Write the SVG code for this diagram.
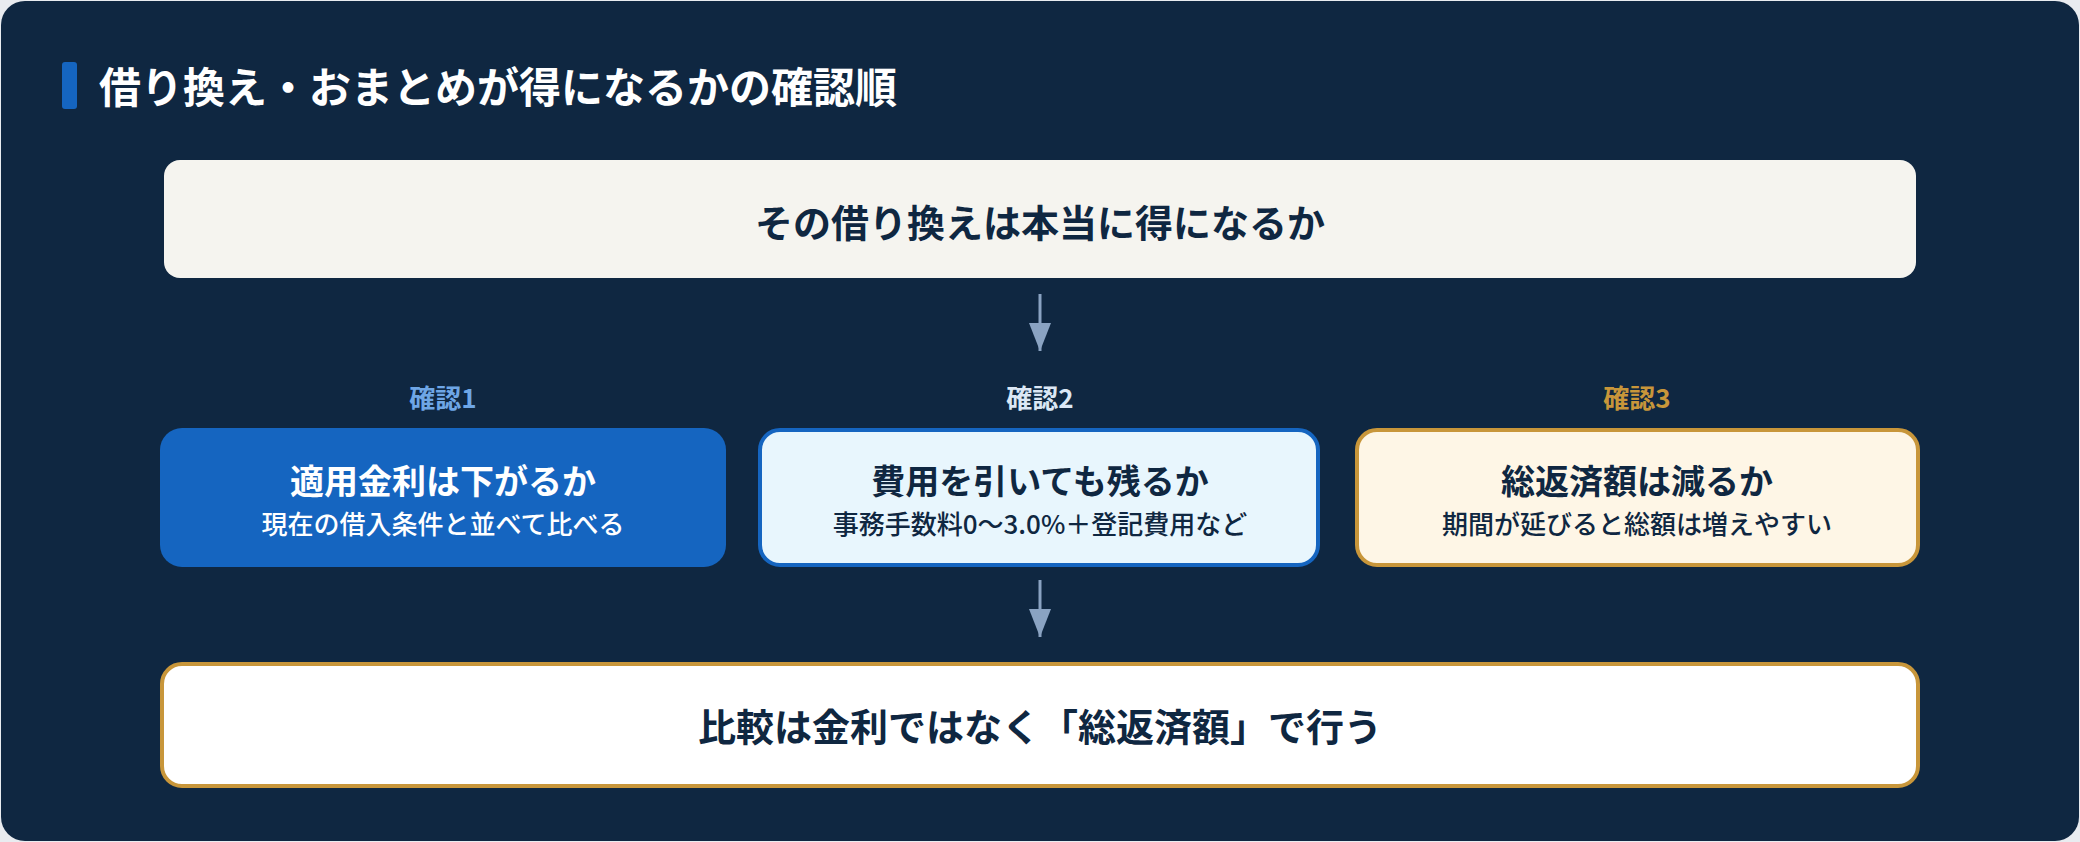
<svg xmlns="http://www.w3.org/2000/svg" width="2080" height="842" viewBox="0 0 2080 842">
  <defs>
    <marker id="arrow" viewBox="0 0 28 22" refX="28" refY="11" markerWidth="28" markerHeight="22" markerUnits="userSpaceOnUse" orient="auto">
      <path d="M0,0 L28,11 L0,22 Z" fill="#8aa3c2"/>
    </marker>
  </defs>
  <style>
    text { font-family: "Noto Sans CJK JP", "Noto Sans", sans-serif; text-anchor: middle; }
    .heading { font-size: 42px; font-weight: 700; fill: #ffffff; text-anchor: start; }
    .big { font-size: 38px; font-weight: 700; fill: #0f2741; }
    .ttl { font-size: 34px; font-weight: 700; }
    .sub { font-size: 26px; font-weight: 500; }
    .lbl { font-size: 26px; font-weight: 700; }
    .conn { stroke: #8aa3c2; stroke-width: 3; fill: none; }
  </style>
  <rect x="0" y="0" width="2080" height="842" fill="#e9ecf0"/>
  <rect x="1" y="1" width="2078" height="840" rx="24" fill="#0f2741"/>

  <g id="title">
    <rect x="62" y="62" width="15" height="47" rx="3" fill="#1565c0"/>
    <text class="heading" x="99" y="103">借り換え・おまとめが得になるかの確認順</text>
  </g>

  <g id="start">
    <rect x="164" y="160" width="1752" height="118" rx="16" fill="#f5f4ef"/>
    <text class="big" x="1040" y="237">その借り換えは本当に得になるか</text>
  </g>

  <g id="check1">
    <text class="lbl" x="443" y="408" fill="#6ea6e6">確認1</text>
    <rect x="160" y="428" width="566" height="139" rx="22" fill="#1565c0"/>
    <text class="ttl" x="443" y="494" fill="#ffffff">適用金利は下がるか</text>
    <text class="sub" x="443" y="534" fill="#ffffff">現在の借入条件と並べて比べる</text>
  </g>

  <g id="check2">
    <text class="lbl" x="1040" y="408" fill="#dbe7f5">確認2</text>
    <rect x="760" y="430" width="558" height="135" rx="20" fill="#e8f6fd" stroke="#1565c0" stroke-width="4"/>
    <text class="ttl" x="1040" y="494" fill="#0f2741">費用を引いても残るか</text>
    <text class="sub" x="1040" y="534" fill="#0f2741">事務手数料0〜3.0%＋登記費用など</text>
  </g>

  <g id="check3">
    <text class="lbl" x="1637" y="408" fill="#c8963a">確認3</text>
    <rect x="1357" y="430" width="561" height="135" rx="20" fill="#fef6e6" stroke="#c8963a" stroke-width="4"/>
    <text class="ttl" x="1637" y="494" fill="#0f2741">総返済額は減るか</text>
    <text class="sub" x="1637" y="534" fill="#0f2741">期間が延びると総額は増えやすい</text>
  </g>

  <g id="result">
    <rect x="162" y="664" width="1756" height="122" rx="20" fill="#ffffff" stroke="#c8963a" stroke-width="4"/>
    <text class="big" x="1040" y="741">比較は金利ではなく「総返済額」で行う</text>
  </g>

  <g id="connectors">
    <line class="conn" x1="1040" y1="294" x2="1040" y2="351" marker-end="url(#arrow)"/>
    <line class="conn" x1="1040" y1="580" x2="1040" y2="637" marker-end="url(#arrow)"/>
  </g>
</svg>
